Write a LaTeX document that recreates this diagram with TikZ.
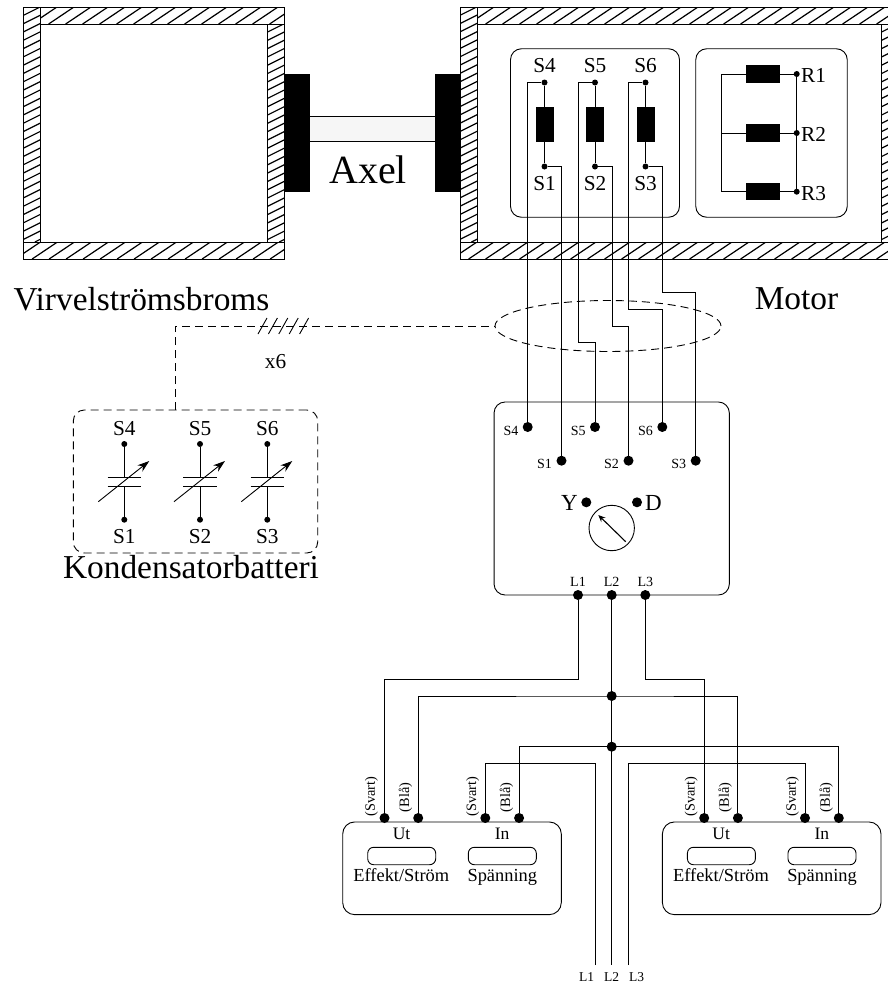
\documentclass[tikz,border=0pt]{standalone}
\usepackage{fontspec}
\setmainfont{Liberation Serif}
\usetikzlibrary{arrows.meta,shapes.geometric}

\tikzset{
  wire/.style={line width=1pt},
  dashwire/.style={line width=0.9pt,dash pattern=on 8pt off 5pt},
  bigdot/.style={circle,fill=black,inner sep=0pt,minimum size=10pt},
  smalldot/.style={circle,fill=black,inner sep=0pt,minimum size=6pt},
  panel/.style={draw,line width=0.9pt,rectangle,rounded corners=#1,inner sep=0pt},
  panel/.default=11pt,
  coil/.style={rectangle,fill=black,inner sep=0pt},
  hugetext/.style={inner sep=0pt,anchor=base,font=\fontsize{33.4}{36}\selectfont},
  midtext/.style={inner sep=0pt,font=\fontsize{21.3}{24}\selectfont},
  metertext/.style={inner sep=0pt,anchor=base,font=\fontsize{18.4}{21}\selectfont},
  tinytext/.style={inner sep=0pt,font=\fontsize{14}{16}\selectfont},
  sidetext/.style={inner sep=0pt,rotate=90,font=\fontsize{14.3}{16}\selectfont}
}

% x1 y1 x2 y2 hatch step, slope
\newcommand{\hatchband}[6]{
  \begin{scope}
    \clip (#1,#2) rectangle (#3,#4) ;
    \pgfmathtruncatemacro\hatchn{(#3-#1+(#4-#2)/#6)/#5+1}
    \foreach \k in {0,...,\hatchn}
      \draw[line width=1.2pt] ({#1-(#4-#2)/#6+\k*#5},#4) -- ++({(#4-#2)/#6},{-(#4-#2)}) ;
  \end{scope}
  \draw[line width=0.9pt] (#1,#2) rectangle (#3,#4) ;
}

\begin{document}
\begin{tikzpicture}[x=1pt,y=-1pt]
  \useasboundingbox (0,0) rectangle (888,988) ;

  % brake and motor housing
  \hatchband{23.5}{7}{40}{242}{16.6}{0.5}
  \hatchband{40}{7}{284}{24}{17}{0.67}
  \hatchband{267}{24}{284}{242}{16.6}{0.5}
  \hatchband{23.5}{242}{284}{259}{17}{0.67}
  \hatchband{460}{7}{477}{242}{16.6}{0.5}
  \hatchband{477}{7}{898}{24}{17}{0.67}
  \hatchband{881}{24}{898}{242}{16.6}{0.5}
  \hatchband{460}{242}{898}{259}{17}{0.67}

  % axle
  \fill[black] (284,74) rectangle (310,192) ;
  \fill[black] (435,74) rectangle (460,192) ;
  \fill[gray!7] (310,116) rectangle (435,141) ;
  \draw[wire] (310,116) -- (435,116) ;
  \draw[wire] (310,141) -- (435,141) ;
  \node[hugetext,font=\fontsize{40}{44}\selectfont] (axel) at (368,183) {Axel} ;
  \node[hugetext] (brake) at (141.5,310) {Virvelströmsbroms} ;
  \node[hugetext] (motor) at (796.5,309.5) {Motor} ;

  % stator terminals
  \node[panel] (statorbox) at (595,133) [minimum width=169pt,minimum height=168.5pt] {} ;
  \foreach \a/\b/\xx in {4/1/544.5,5/2/595,6/3/645.5} {
    \node[smalldot] (top\a) at (\xx,82.5) {} ;
    \node[smalldot] (bot\b) at (\xx,166.5) {} ;
    \node[coil,minimum width=18pt,minimum height=35pt] (coil\a) at (\xx,124.5) {} ;
    \node[midtext] (toplab\a) at (\xx,66) {S\a} ;
    \node[midtext] (botlab\b) at (\xx,184) {S\b} ;
    \draw[wire] (top\a) -- (coil\a) -- (bot\b) ;
  }

  % rotor terminals
  \node[panel] (rotorbox) at (771.5,133) [minimum width=151.5pt,minimum height=168.5pt] {} ;
  \foreach \r/\yy in {1/74,2/133,3/191.7} {
    \node[smalldot] (r\r) at (796.7,\yy) {} ;
    \node[coil,minimum width=34pt,minimum height=17.5pt] (rcoil\r) at (763,\yy) {} ;
    \coordinate (rbus\r) at (721,\yy) ;
    \node[midtext,anchor=west] (rlab\r) at (801,\yy+1.5) {R\r} ;
    \draw[wire] (rbus\r) -- (rcoil\r) -- (r\r) ;
  }
  \draw[wire] (rbus1) -- (rbus3) ;
  \draw[wire] (r1) -- (r3) ;

  % capacitor bank
  \node[draw,dashwire,rectangle,rounded corners=11pt,inner sep=0pt,minimum width=244.4pt,minimum height=143pt] (capbox) at (195.5,481.5) {} ;
  \node[hugetext] (caplab) at (191,578) {Kondensatorbatteri} ;
  \foreach \a/\b/\xx in {4/1/124.3,5/2/200,6/3/267.3} {
    \node[smalldot] (captop\a) at (\xx,444) {} ;
    \node[smalldot] (capbot\b) at (\xx,519.7) {} ;
    \node[midtext] (captoplab\a) at (\xx,429) {S\a} ;
    \node[midtext] (capbotlab\b) at (\xx,537) {S\b} ;
    \coordinate (plateA\a) at (\xx,477.7) ;
    \coordinate (plateB\a) at (\xx,486) ;
    \draw[wire] (captop\a) -- (plateA\a) ;
    \draw[wire] (plateB\a) -- (capbot\b) ;
    \draw[wire] (\xx-16.7,477.7) -- (\xx+16.7,477.7) ;
    \draw[wire] (\xx-16.7,486) -- (\xx+16.7,486) ;
    \draw[line width=0.9pt,-{Stealth[length=12pt,width=8pt]}] (\xx-26,501.7) -- (\xx+25,461) ;
  }

  % cable bundle
  \node[draw,dashwire,ellipse,inner sep=0pt,minimum width=226pt,minimum height=51pt] (bundle) at (608,326) {} ;
  \coordinate (capjoin) at (175,410) ;
  \draw[dashwire] (capjoin) |- (bundle.west) ;
  \foreach \k in {0,...,4}
    \draw[line width=0.9pt] (258+10.4*\k,334) -- (267+10.4*\k,318) ;
  \node[midtext] (xsix) at (275.5,362) {x6} ;

  % switch
  \node[panel] (switchbox) at (611.7,498.5) [minimum width=235.3pt,minimum height=193pt] {} ;
  \foreach \a/\xx in {4/527.7,5/595,6/662.3} {
    \node[bigdot] (sw\a) at (\xx,427) {} ;
    \node[tinytext] (swlab\a) at (\xx-16.7,431) {S\a} ;
  }
  \foreach \b/\xx in {1/561.5,2/628.5,3/695.7} {
    \node[bigdot] (sw\b) at (\xx,460.7) {} ;
    \node[tinytext] (swlab\b) at (\xx-17,464) {S\b} ;
  }
  \node[bigdot] (ydot) at (586.3,502.3) {} ;
  \node[bigdot] (ddot) at (637,502.3) {} ;
  \node[midtext,font=\fontsize{23}{25}\selectfont] (ylab) at (569.3,503) {Y} ;
  \node[midtext,font=\fontsize{23}{25}\selectfont] (dlab) at (653.3,503) {D} ;
  \node[circle,draw,line width=0.9pt,inner sep=0pt,minimum size=45.4pt] (dial) at (611.7,528) {} ;
  \coordinate (dialtail) at (625.7,541.7) ;
  \coordinate (dialtip) at (598.3,515) ;
  \draw[line width=1.1pt,-{Stealth[length=7pt,width=6pt]}] (dialtail) -- (dialtip) ;
  \foreach \l/\xx in {1/578,2/611.7,3/645.3} {
    \node[bigdot] (line\l) at (\xx,595) {} ;
    \node[tinytext] (linelab\l) at (\xx,582) {L\l} ;
  }

  % motor to switch
  \draw[wire] (top4) -| (sw4) ;
  \draw[wire] (bot1) -| (sw1) ;
  \draw[wire] (top5) -| ++(-17,260) -| (sw5) ;
  \draw[wire] (bot2) -| ++(17,159.5) -| (sw2) ;
  \draw[wire] (top6) -| ++(-17,226.8) -| (sw6) ;
  \draw[wire] (bot3) -| ++(16.8,126.2) -| (sw3) ;

  % meters
  \foreach \m/\dx in {1/0,2/319.7} {
    \begin{scope}[xshift=\dx pt]
      \node[panel=12pt] (meter\m) at (452,868.3) [minimum width=218.6pt,minimum height=92.7pt] {} ;
      \node[bigdot] (ua\m) at (384.5,818) {} ;
      \node[bigdot] (ub\m) at (418.2,818) {} ;
      \node[bigdot] (ia\m) at (485.3,818) {} ;
      \node[bigdot] (ib\m) at (519.1,818) {} ;
      \node[sidetext] (uasv\m) at (371.5,796.7) {(Svart)} ;
      \node[sidetext] (ubbl\m) at (405.5,797.5) {(Blå)} ;
      \node[sidetext] (iasv\m) at (472.8,796.7) {(Svart)} ;
      \node[sidetext] (ibbl\m) at (506.5,797.5) {(Blå)} ;
      \node[metertext,font=\fontsize{17.5}{20}\selectfont] (utlab\m) at (401.5,839) {Ut} ;
      \node[metertext,font=\fontsize{17.5}{20}\selectfont] (inlab\m) at (502.2,839) {In} ;
      \node[panel=6pt,minimum width=68pt,minimum height=17.4pt] (utslot\m) at (401.7,856) {} ;
      \node[panel=6pt,minimum width=68pt,minimum height=17.4pt] (inslot\m) at (502.3,856) {} ;
      \node[metertext] (utname\m) at (401.3,881) {Effekt/Ström} ;
      \node[metertext] (inname\m) at (502.3,881) {Spänning} ;
    \end{scope}
  }

  % supply
  \coordinate (junA) at (611.7,696) ;
  \coordinate (junB) at (611.7,746.7) ;
  \node[bigdot] (junAdot) at (junA) {} ;
  \node[bigdot] (junBdot) at (junB) {} ;
  \coordinate (endL1) at (595,965) ;
  \coordinate (endL2) at (611.7,965) ;
  \coordinate (endL3) at (628.3,965) ;
  \node[tinytext,font=\fontsize{13.5}{15}\selectfont] (endlab1) at (586.7,977) {L1} ;
  \node[tinytext,font=\fontsize{13.5}{15}\selectfont] (endlab2) at (611.7,977) {L2} ;
  \node[tinytext,font=\fontsize{13.5}{15}\selectfont] (endlab3) at (636.7,977) {L3} ;
  \draw[wire] (line1) -- ++(0,84.3) -| (ua1) ;
  \draw[wire] (line3) -- ++(0,84.3) -| (ua2) ;
  \draw[wire] (line2) -- (endL2) ;
  \draw[wire] (ub1) |- (junA) -| (ub2) ;
  \draw[wire] (ib1) |- (junB) -| (ib2) ;
  \draw[wire] (endL1) -- ++(0,-201.3) -| (ia1) ;
  \draw[wire] (endL3) -- ++(0,-201.3) -| (ia2) ;
\end{tikzpicture}
\end{document}
